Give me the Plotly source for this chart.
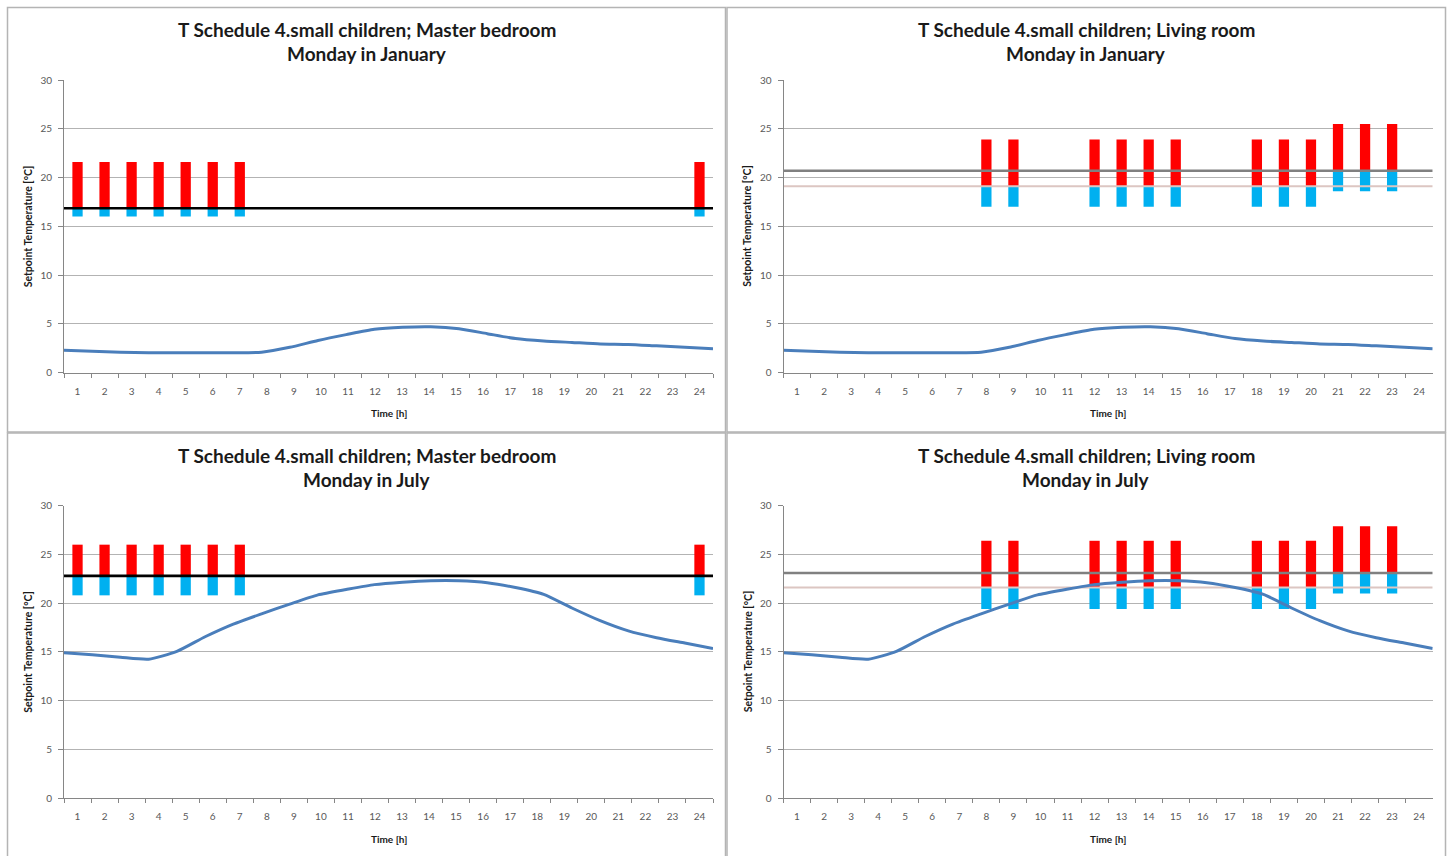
import plotly.graph_objects as go

# ---------------- data ----------------
hours = [str(h) for h in range(1, 25)]
N = None

# Master bedroom, January (setpoint bands)
mb_jan_low  = [16.0, 16.0, 16.0, 16.0, 16.0, 16.0, 16.0, N, N, N, N, N, N, N, N, N, N, N, N, N, N, N, N, 16.0]
mb_jan_mid  = [16.85, 16.85, 16.85, 16.85, 16.85, 16.85, 16.85, N, N, N, N, N, N, N, N, N, N, N, N, N, N, N, N, 16.85]
mb_jan_high = [21.6, 21.6, 21.6, 21.6, 21.6, 21.6, 21.6, N, N, N, N, N, N, N, N, N, N, N, N, N, N, N, N, 21.6]
mb_jan_ref  = [16.85]

# Living room, January
lr_jan_low  = [N, N, N, N, N, N, N, 17.0, 17.0, N, N, 17.0, 17.0, 17.0, 17.0, N, N, 17.0, 17.0, 17.0, 18.6, 18.6, 18.6, N]
lr_jan_mid  = [N, N, N, N, N, N, N, 19.1, 19.1, N, N, 19.1, 19.1, 19.1, 19.1, N, N, 19.1, 19.1, 19.1, 20.7, 20.7, 20.7, N]
lr_jan_high = [N, N, N, N, N, N, N, 23.9, 23.9, N, N, 23.9, 23.9, 23.9, 23.9, N, N, 23.9, 23.9, 23.9, 25.5, 25.5, 25.5, N]
lr_jan_ref  = [20.7, 19.1]

# Master bedroom, July
mb_jul_low  = [20.8, 20.8, 20.8, 20.8, 20.8, 20.8, 20.8, N, N, N, N, N, N, N, N, N, N, N, N, N, N, N, N, 20.8]
mb_jul_mid  = [22.8, 22.8, 22.8, 22.8, 22.8, 22.8, 22.8, N, N, N, N, N, N, N, N, N, N, N, N, N, N, N, N, 22.8]
mb_jul_high = [26.0, 26.0, 26.0, 26.0, 26.0, 26.0, 26.0, N, N, N, N, N, N, N, N, N, N, N, N, N, N, N, N, 26.0]
mb_jul_ref  = [22.8]

# Living room, July
lr_jul_low  = [N, N, N, N, N, N, N, 19.4, 19.4, N, N, 19.4, 19.4, 19.4, 19.4, N, N, 19.4, 19.4, 19.4, 21.0, 21.0, 21.0, N]
lr_jul_mid  = [N, N, N, N, N, N, N, 21.6, 21.6, N, N, 21.6, 21.6, 21.6, 21.6, N, N, 21.6, 21.6, 21.6, 23.1, 23.1, 23.1, N]
lr_jul_high = [N, N, N, N, N, N, N, 26.4, 26.4, N, N, 26.4, 26.4, 26.4, 26.4, N, N, 26.4, 26.4, 26.4, 27.9, 27.9, 27.9, N]
lr_jul_ref  = [23.1, 21.6]

# Outdoor temperature curves
jan_out = [2.3, 2.2, 2.1, 2.05, 2.05, 2.05, 2.05, 2.1, 2.6, 3.3, 3.9, 4.45,
           4.65, 4.7, 4.5, 4.0, 3.5, 3.25, 3.1, 2.95, 2.9, 2.75, 2.6, 2.45]
jul_out = [14.9, 14.7, 14.45, 14.25, 15.05, 16.55, 17.85, 18.9, 19.9, 20.85, 21.4, 21.9,
           22.15, 22.3, 22.3, 22.1, 21.6, 20.9, 19.5, 18.2, 17.15, 16.45, 15.9, 15.35]
out_x = list(range(24))

title_main = ["T Schedule 4.small children; Master bedroom",
              "T Schedule 4.small children; Living room",
              "T Schedule 4.small children; Master bedroom",
              "T Schedule 4.small children; Living room"]
title_sub = ["Monday in January", "Monday in January", "Monday in July", "Monday in July"]

# ---------------- layout geometry ----------------
W, H = 1451, 856
def px(x): return x / W
def py(y): return 1 - y / H

FONT = "Lato"
RED, BLUE, CURVE = "#ff0000", "#00b0f0", "#4a7ebb"
AXIS, GRID, TICK = "#868686", "#b3b3b3", "#595959"
REF_STYLES_MB = [("#000000", 2.6)]
REF_STYLES_LR = [("#808080", 2.6), ("#dcc6c2", 2.0)]

panels = [
    dict(low=mb_jan_low, mid=mb_jan_mid, high=mb_jan_high, ref=mb_jan_ref, refst=REF_STYLES_MB, out=jan_out,
         xd=(64, 713), yd=(80, 372.7), box=(7.5, 7.5, 725.5, 432), tx=366.5, ty=7),
    dict(low=lr_jan_low, mid=lr_jan_mid, high=lr_jan_high, ref=lr_jan_ref, refst=REF_STYLES_LR, out=jan_out,
         xd=(783.5, 1432.7), yd=(80, 372.7), box=(727, 7.5, 1445.5, 432), tx=1086, ty=7),
    dict(low=mb_jul_low, mid=mb_jul_mid, high=mb_jul_high, ref=mb_jul_ref, refst=REF_STYLES_MB, out=jul_out,
         xd=(64, 713), yd=(505.7, 798), box=(7.5, 433, 725.5, 870), tx=366.5, ty=433),
    dict(low=lr_jul_low, mid=lr_jul_mid, high=lr_jul_high, ref=lr_jul_ref, refst=REF_STYLES_LR, out=jul_out,
         xd=(783.5, 1432.7), yd=(505.7, 798), box=(727, 433, 1445.5, 870), tx=1086, ty=433),
]

fig = go.Figure()
layout = dict(template="none", width=W, height=H, margin=dict(l=0, r=0, t=0, b=0, pad=0, autoexpand=False),
              paper_bgcolor="white", plot_bgcolor="white", barmode="overlay",
              showlegend=False, font=dict(family=FONT))
annotations, shapes = [], []

for k, p in enumerate(panels):
    xb = "x" if k == 0 else f"x{2*k+1}"
    xl = f"x{2*k+2}"
    yy = "y" if k == 0 else f"y{k+1}"
    xb_name = "xaxis" if k == 0 else f"xaxis{2*k+1}"
    xl_name = f"xaxis{2*k+2}"
    y_name = "yaxis" if k == 0 else f"yaxis{k+1}"

    blue_h = [None if (a is None) else round(b - a, 3) for a, b in zip(p["low"], p["mid"])]
    red_h = [None if (a is None) else round(b - a, 3) for a, b in zip(p["mid"], p["high"])]

    fig.add_trace(go.Bar(x=hours, y=blue_h, base=p["low"], width=0.38, marker=dict(color=BLUE, line=dict(width=0)),
                         xaxis=xb, yaxis=yy, hoverinfo="skip"))
    fig.add_trace(go.Bar(x=hours, y=red_h, base=p["mid"], width=0.38, marker=dict(color=RED, line=dict(width=0)),
                         xaxis=xb, yaxis=yy, hoverinfo="skip"))
    for val, (col, lw) in zip(p["ref"], p["refst"]):
        fig.add_trace(go.Scatter(x=[out_x[0], out_x[-1]], y=[val, val], mode="lines",
                                 line=dict(color=col, width=lw), xaxis=xl, yaxis=yy, hoverinfo="skip"))
    fig.add_trace(go.Scatter(x=out_x, y=p["out"], mode="lines", line=dict(color=CURVE, width=3, shape="spline", smoothing=0.6),
                             xaxis=xl, yaxis=yy, hoverinfo="skip"))

    xdom = [px(p["xd"][0]), px(p["xd"][1])]
    ydom = [py(p["yd"][1]), py(p["yd"][0])]
    layout[xb_name] = dict(domain=xdom, anchor=yy, type="category", categoryorder="array", categoryarray=hours,
                           range=[-0.5, 23.5], tickson="boundaries", ticks="outside", ticklen=4, tickcolor=AXIS,
                           showline=True, linecolor=AXIS, linewidth=1, showgrid=False, zeroline=False,
                           tickfont=dict(size=10, color=TICK, family=FONT), ticklabelstandoff=9, fixedrange=True,
                           automargin=False)
    layout[xl_name] = dict(overlaying=xb, anchor=yy, range=[0, 23], visible=False, fixedrange=True, automargin=False)
    layout[y_name] = dict(domain=ydom, anchor=xb, range=[0, 30], dtick=5, tick0=0, showgrid=True, gridcolor=GRID,
                          gridwidth=1, showline=True, linecolor=AXIS, linewidth=1, ticks="outside", ticklen=5,
                          tickcolor=AXIS, zeroline=False, tickfont=dict(size=10, color=TICK, family=FONT),
                          ticklabelstandoff=4, fixedrange=True, automargin=False)

    bx0, by0, bx1, by1 = p["box"]
    shapes.append(dict(type="rect", xref="paper", yref="paper", x0=px(bx0), x1=px(bx1), y0=py(by1), y1=py(by0),
                       line=dict(color="#b4b4b4", width=1.5), fillcolor="rgba(0,0,0,0)", layer="below"))

    annotations.append(dict(text=f"<b>{title_main[k]}</b>", x=px(p["tx"]), y=py(p["ty"] + 22), xref="paper", yref="paper",
                            xanchor="center", yanchor="middle", showarrow=False,
                            font=dict(size=19, color="#1a1a1a", family=FONT)))
    annotations.append(dict(text=f"<b>{title_sub[k]}</b>", x=px(p["tx"]), y=py(p["ty"] + 47), xref="paper", yref="paper",
                            xanchor="center", yanchor="middle", showarrow=False,
                            font=dict(size=19, color="#1a1a1a", family=FONT)))
    xc = (p["xd"][0] + p["xd"][1]) / 2
    annotations.append(dict(text="<b>Time [h]</b>", x=px(xc), y=py(p["yd"][1] + 40.5), xref="paper", yref="paper",
                            xanchor="center", yanchor="middle", showarrow=False,
                            font=dict(size=10, color="#1a1a1a", family=FONT)))
    yc = (p["yd"][0] + p["yd"][1]) / 2
    annotations.append(dict(text="<b>Setpoint Temperature [°C]</b>", x=px(p["xd"][0] - 36), y=py(yc), xref="paper",
                            yref="paper", xanchor="center", yanchor="middle", showarrow=False, textangle=-90,
                            font=dict(size=10.5, color="#1a1a1a", family=FONT)))

layout["annotations"] = annotations
layout["shapes"] = shapes
fig.update_layout(**layout)
fig.write_html("out.html")
